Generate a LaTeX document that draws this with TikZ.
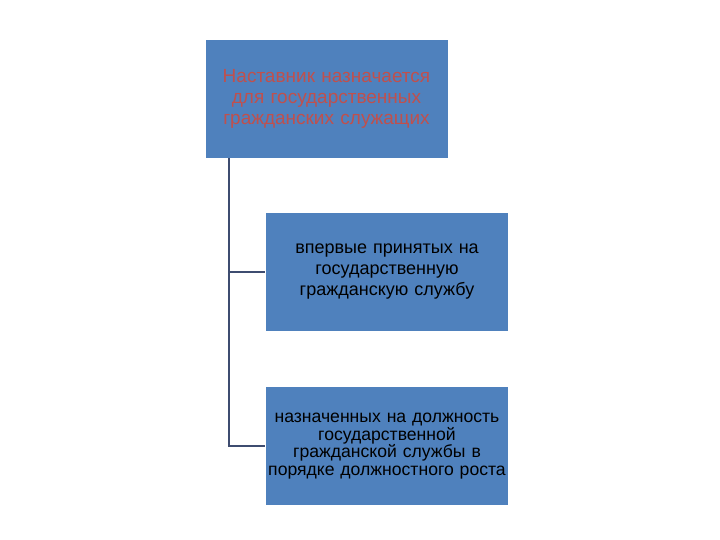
\documentclass[tikz,border=0pt]{standalone}
\usepackage{fontspec}
\setmainfont{Liberation Sans}
\definecolor{boxblue}{RGB}{79,129,189}
\definecolor{linkgray}{RGB}{62,76,112}
\definecolor{headred}{RGB}{192,80,77}
\tikzset{
  box/.style={fill=boxblue, draw=white, line width=0.8pt, text width=243pt,
    minimum height=119pt, align=center, inner sep=0pt, font=\fontsize{18}{21}\selectfont},
  link/.style={draw=linkgray, line width=1.8pt}
}
\begin{document}
\begin{tikzpicture}[x=1pt,y=-1pt]
   \useasboundingbox (0,0) rectangle (720,540);
   \node[box, text=headred, font=\fontsize{19}{21}\selectfont] (top) at (326.5,98.5)
     {Наставник назначается\\для государственных\\гражданских служащих};
   \node[box] (first) at (387,272)
     {впервые принятых на\\государственную\\гражданскую службу};
   \node[box, font=\fontsize{17.6}{17.5}\selectfont] (second) at (387,446)
     {назначенных на должность\\государственной\\гражданской службы в\\порядке должностного роста};
   \draw[link] ([xshift=24pt]top.south west) |- (first.west);
   \draw[link] ([xshift=24pt]top.south west) |- (second.west);
 \end{tikzpicture}
\end{document}
